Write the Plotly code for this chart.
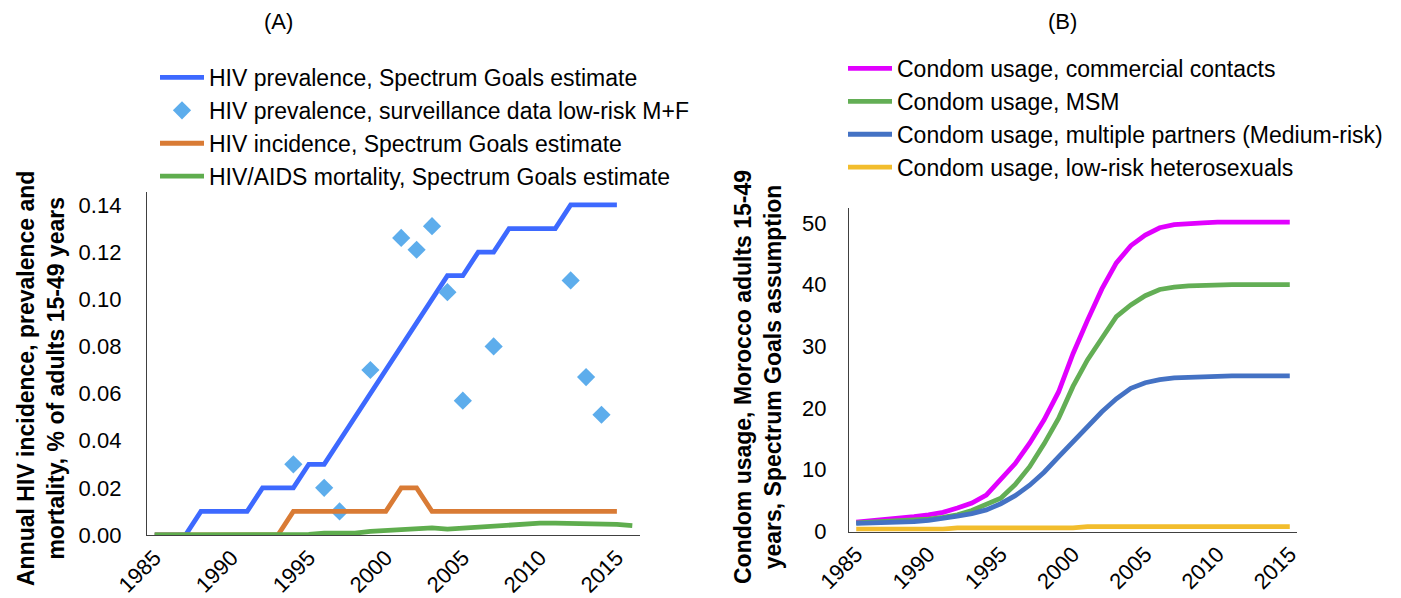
import plotly.graph_objects as go

W, H = 1401, 598

# ---------- Panel A data ----------
years_a = list(range(1985, 2017))
years_a_est = list(range(1985, 2016))
prevalence_est = [0, 0, 0, 0.01, 0.01, 0.01, 0.01, 0.02, 0.02, 0.02, 0.03, 0.03, 0.04, 0.05,
                  0.06, 0.07, 0.08, 0.09, 0.10, 0.11, 0.11, 0.12, 0.12, 0.13, 0.13, 0.13, 0.13,
                  0.14, 0.14, 0.14, 0.14]
incidence_est = [0, 0, 0, 0, 0, 0, 0, 0, 0, 0.01, 0.01, 0.01, 0.01, 0.01, 0.01, 0.01, 0.02,
                 0.02, 0.01, 0.01, 0.01, 0.01, 0.01, 0.01, 0.01, 0.01, 0.01, 0.01, 0.01, 0.01, 0.01]
mortality_est = [0, 0, 0, 0, 0, 0, 0, 0.0003, 0.0003, 0.0003, 0.0003, 0.0008, 0.0008, 0.0008,
                 0.0015, 0.002, 0.002, 0.0025, 0.003, 0.0025, 0.003, 0.0035, 0.004, 0.0045,
                 0.0045, 0.005, 0.005, 0.005, 0.005, 0.0045, 0.0045, 0.004]
surv_years = [1994, 1996, 1997, 1999, 2001, 2002, 2003, 2004, 2005, 2007, 2012, 2013, 2014]
surv_values = [0.030, 0.020, 0.010, 0.070, 0.126, 0.121, 0.131, 0.103, 0.057, 0.080, 0.108,
               0.067, 0.051]

# ---------- Panel B data ----------
years_b = list(range(1985, 2016))
condom_commercial = [1.5, 1.7, 1.9, 2.1, 2.4, 2.7, 3.1, 3.8, 4.6, 5.9, 8.4, 11.0, 14.3, 18.1,
                     22.6, 28.8, 34.2, 39.3, 43.5, 46.3, 48.0, 49.2, 49.7, 49.9, 50.0, 50.1,
                     50.1, 50.1, 50.1, 50.1, 50.1]
condom_msm = [1.4, 1.5, 1.6, 1.7, 1.8, 2.0, 2.3, 2.7, 3.4, 4.3, 5.4, 7.6, 10.5, 14.2, 18.3,
              23.5, 27.8, 31.3, 34.8, 36.7, 38.2, 39.2, 39.6, 39.8, 39.9, 40, 40, 40, 40, 40, 40]
condom_multiple = [1.3, 1.35, 1.4, 1.5, 1.6, 1.8, 2.1, 2.5, 2.9, 3.5, 4.5, 5.8, 7.5, 9.6, 12.1,
                   14.6, 17.0, 19.4, 21.5, 23.2, 24.1, 24.6, 24.9, 25.0, 25.0, 25.1, 25.2, 25.2,
                   25.2, 25.2, 25.2]
condom_lowrisk = [0.4] * 7 + [0.6] * 9 + [0.8] * 15

names_a = ["HIV prevalence, Spectrum Goals estimate",
           "HIV prevalence, surveillance data low-risk M+F",
           "HIV incidence, Spectrum Goals estimate",
           "HIV/AIDS mortality, Spectrum Goals estimate"]
names_b = ["Condom usage, commercial contacts",
           "Condom usage, MSM",
           "Condom usage, multiple partners (Medium-risk)",
           "Condom usage, low-risk heterosexuals"]

FONT = "Liberation Sans, Arial, sans-serif"
LW = 4.8

fig = go.Figure()
fig.add_trace(go.Scatter(x=years_a_est, y=prevalence_est, mode="lines", name=names_a[0],
                         line=dict(color="#3D69FF", width=LW), legend="legend"))
fig.add_trace(go.Scatter(x=surv_years, y=surv_values, mode="markers", name=names_a[1],
                         marker=dict(symbol="diamond", size=14, color="#5DADEC"), legend="legend"))
fig.add_trace(go.Scatter(x=years_a_est, y=incidence_est, mode="lines", name=names_a[2],
                         line=dict(color="#D97B35", width=LW), legend="legend"))
fig.add_trace(go.Scatter(x=years_a, y=mortality_est, mode="lines", name=names_a[3],
                         line=dict(color="#5FAD4E", width=LW), legend="legend"))

colors_b = ["#E100FF", "#63AE55", "#4472C4", "#F2BD2D"]
for name, vals, c in zip(names_b, [condom_commercial, condom_msm, condom_multiple, condom_lowrisk], colors_b):
    fig.add_trace(go.Scatter(x=years_b, y=vals, mode="lines", name=name,
                             line=dict(color=c, width=LW), xaxis="x2", yaxis="y2",
                             legend="legend2"))

def px_x(p):
    return p / W

def px_y(p):
    return 1 - p / H

axis_common = dict(showgrid=False, zeroline=False, showline=True, linecolor="#404040",
                   linewidth=1.3, ticks="", automargin=False,
                   tickfont=dict(family=FONT, size=22, color="black"))

fig.update_layout(
    width=W, height=H,
    margin=dict(l=0, r=0, t=0, b=0, autoexpand=False),
    paper_bgcolor="white", plot_bgcolor="white",
    font=dict(family=FONT, color="black"),
    xaxis=dict(domain=[px_x(147), px_x(640)], range=[1984.5, 2016.5],
               tickvals=list(range(1985, 2016, 5)), tickangle=-45, ticklabelstandoff=0,
               anchor="y", **axis_common),
    yaxis=dict(domain=[px_y(535), px_y(192)], range=[0, 0.1455],
               tickvals=[0, 0.02, 0.04, 0.06, 0.08, 0.10, 0.12, 0.14], tickformat=".2f",
               ticklabelstandoff=20, anchor="x", **axis_common),
    xaxis2=dict(domain=[px_x(849), px_x(1297)], range=[1984.5, 2015.5],
                tickvals=list(range(1985, 2016, 5)), tickangle=-45, ticklabelstandoff=0,
                anchor="y2", **axis_common),
    yaxis2=dict(domain=[px_y(531.5), px_y(208)], range=[0, 52.4],
                tickvals=[0, 10, 20, 30, 40, 50], ticklabelstandoff=17, anchor="x2",
                **axis_common),
    legend=dict(x=px_x(155), y=px_y(56), xanchor="left", yanchor="top",
                bgcolor="rgba(0,0,0,0)", font=dict(family=FONT, size=23, color="black"),
                itemwidth=44, tracegroupgap=0),
    legend2=dict(x=px_x(843), y=px_y(47), xanchor="left", yanchor="top",
                 bgcolor="rgba(0,0,0,0)", font=dict(family=FONT, size=23, color="black"),
                 itemwidth=44, tracegroupgap=0),
    annotations=[
        dict(text="(A)", x=px_x(278), y=px_y(22), xref="paper", yref="paper",
             xanchor="center", yanchor="middle",
             showarrow=False, font=dict(family=FONT, size=22)),
        dict(text="(B)", x=px_x(1062), y=px_y(22), xref="paper", yref="paper",
             xanchor="center", yanchor="middle",
             showarrow=False, font=dict(family=FONT, size=22)),
        dict(text="<b>Annual HIV incidence, prevalence and<br>mortality, % of adults 15-49 years</b>",
             x=px_x(41), y=px_y(379), xref="paper", yref="paper", textangle=-90,
             xanchor="center", yanchor="middle",
             showarrow=False, font=dict(family=FONT, size=23)),
        dict(text="<b>Condom usage, Morocco adults 15-49<br>years, Spectrum Goals assumption</b>",
             x=px_x(758), y=px_y(377), xref="paper", yref="paper", textangle=-90,
             xanchor="center", yanchor="middle",
             showarrow=False, font=dict(family=FONT, size=23)),
    ],
)

# Remove the browser's default body margin so the 1401x598 figure fills the window.
fig.write_html("out.html",
               config={"displayModeBar": False},
               post_script="document.body.style.margin='0';document.body.style.overflow='hidden';")
